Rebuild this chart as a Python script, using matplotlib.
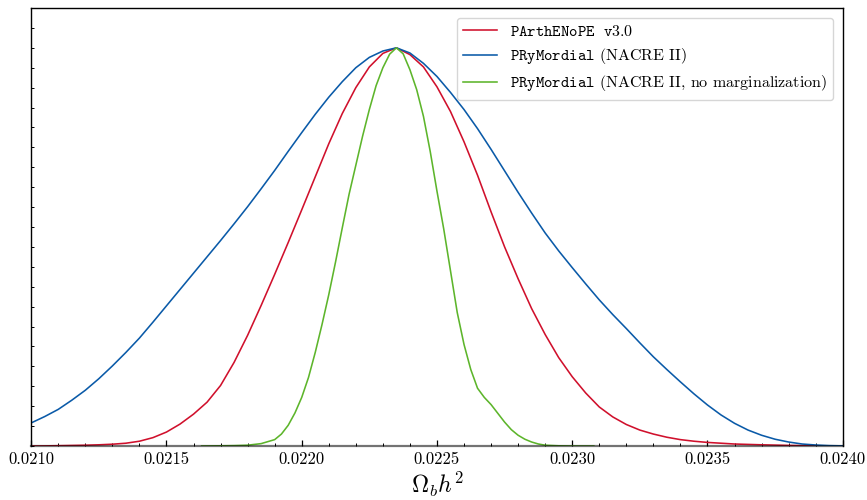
import matplotlib
matplotlib.use("Agg")
import matplotlib.pyplot as plt
from matplotlib.ticker import MultipleLocator, FormatStrFormatter, NullLocator

plt.rcParams['font.family'] = 'serif'
plt.rcParams['font.serif'] = ['cmr10']
plt.rcParams['mathtext.fontset'] = 'cm'
plt.rcParams['axes.formatter.use_mathtext'] = True

# Omega_b h^2 grid and normalised posteriors
x_blue = [0.02100, 0.02105, 0.02110, 0.02115, 0.02120, 0.02125, 0.02130, 0.02135,
          0.02140, 0.02145, 0.02150, 0.02155, 0.02160, 0.02165, 0.02170, 0.02175,
          0.02180, 0.02185, 0.02190, 0.02195, 0.02200, 0.02205, 0.02210, 0.02215,
          0.02220, 0.02225, 0.02230, 0.02235, 0.02240, 0.02245, 0.02250, 0.02255,
          0.02260, 0.02265, 0.02270, 0.02275, 0.02280, 0.02285, 0.02290, 0.02295,
          0.02300, 0.02305, 0.02310, 0.02315, 0.02320, 0.02325, 0.02330, 0.02335,
          0.02340, 0.02345, 0.02350, 0.02355, 0.02360, 0.02365, 0.02370, 0.02375,
          0.02380, 0.02385, 0.02390, 0.02395, 0.02400]
y_blue = [0.058, 0.074, 0.092, 0.115, 0.140, 0.169, 0.201, 0.235,
          0.271, 0.311, 0.352, 0.393, 0.434, 0.475, 0.516, 0.558,
          0.601, 0.646, 0.692, 0.740, 0.787, 0.833, 0.876, 0.915,
          0.950, 0.976, 0.992, 1.000, 0.987, 0.961, 0.928, 0.888,
          0.845, 0.797, 0.745, 0.691, 0.637, 0.585, 0.535, 0.490,
          0.448, 0.407, 0.367, 0.330, 0.295, 0.259, 0.224, 0.192,
          0.161, 0.131, 0.103, 0.078, 0.057, 0.040, 0.027, 0.017,
          0.010, 0.005, 0.0025, 0.001, 0.0003]

x_red = [0.02100, 0.02105, 0.02110, 0.02115, 0.02120, 0.02125, 0.02130, 0.02135,
         0.02140, 0.02145, 0.02150, 0.02155, 0.02160, 0.02165, 0.02170, 0.02175,
         0.02180, 0.02185, 0.02190, 0.02195, 0.02200, 0.02205, 0.02210, 0.02215,
         0.02220, 0.02225, 0.02230, 0.02235, 0.02240, 0.02245, 0.02250, 0.02255,
         0.02260, 0.02265, 0.02270, 0.02275, 0.02280, 0.02285, 0.02290, 0.02295,
         0.02300, 0.02305, 0.02310, 0.02315, 0.02320, 0.02325, 0.02330, 0.02335,
         0.02340, 0.02345, 0.02350, 0.02355, 0.02360, 0.02370, 0.02380, 0.02390,
         0.02400]
y_red = [0.000, 0.0003, 0.0008, 0.0014, 0.002, 0.003, 0.0045, 0.007,
         0.012, 0.021, 0.035, 0.055, 0.080, 0.110, 0.152, 0.210,
         0.278, 0.353, 0.431, 0.511, 0.593, 0.676, 0.759, 0.835,
         0.900, 0.952, 0.986, 1.000, 0.983, 0.952, 0.902, 0.840,
         0.764, 0.680, 0.588, 0.500, 0.420, 0.345, 0.280, 0.222,
         0.174, 0.133, 0.098, 0.073, 0.054, 0.040, 0.030, 0.022,
         0.016, 0.012, 0.009, 0.007, 0.005, 0.003, 0.0015, 0.0006,
         0.000]

x_green = [0.02163, 0.02170, 0.02175, 0.02180, 0.02185, 0.02190, 0.021925, 0.02195,
           0.021975, 0.02200, 0.022025, 0.02205, 0.022075, 0.02210, 0.022125, 0.02215,
           0.022175, 0.02220, 0.022225, 0.02225, 0.022275, 0.02230, 0.022325, 0.02235,
           0.022375, 0.02240, 0.022425, 0.02245, 0.022475, 0.02250, 0.022525, 0.02255,
           0.022575, 0.02260, 0.022625, 0.02265, 0.022675, 0.02270, 0.022725, 0.02275,
           0.022775, 0.02280, 0.022825, 0.02285, 0.022875, 0.02290, 0.02295, 0.02300,
           0.02308]
y_green = [0.000, 0.0005, 0.001, 0.002, 0.006, 0.016, 0.030, 0.052,
           0.083, 0.122, 0.172, 0.235, 0.305, 0.380, 0.462, 0.548,
           0.632, 0.705, 0.778, 0.845, 0.905, 0.950, 0.984, 1.000,
           0.985, 0.945, 0.895, 0.828, 0.740, 0.640, 0.545, 0.440,
           0.335, 0.255, 0.192, 0.145, 0.122, 0.104, 0.082, 0.060,
           0.041, 0.027, 0.017, 0.010, 0.005, 0.002, 0.0005, 0.000,
           0.000]

labels = [r'$\mathtt{PArthENoPE}\ \ \mathtt{v3.0}$',
          r'$\mathtt{PRyMordial}$ (NACRE II)',
          r'$\mathtt{PRyMordial}$ (NACRE II, no marginalization)']

fig = plt.figure(figsize=(8.67, 5.0), dpi=100)
ax = fig.add_axes([0.036, 0.108, 0.936, 0.876])

ax.plot(x_red, y_red, color='#d0102c', lw=1.15, label=labels[0])
ax.plot(x_blue, y_blue, color='#0a5aa8', lw=1.15, label=labels[1])
ax.plot(x_green, y_green, color='#5db52b', lw=1.15, label=labels[2])

ax.set_xlim(0.0210, 0.0240)
ax.set_ylim(0, 1.1)

ax.xaxis.set_major_locator(MultipleLocator(0.0005))
ax.xaxis.set_minor_locator(MultipleLocator(0.0001))
ax.xaxis.set_major_formatter(FormatStrFormatter('%.4f'))
ax.yaxis.set_major_locator(NullLocator())
ax.yaxis.set_minor_locator(MultipleLocator(0.05))
ax.tick_params(axis='x', which='major', direction='in', length=4.5, width=0.9,
               labelsize=12, pad=4, top=False)
ax.tick_params(axis='x', which='minor', direction='in', length=2.5, width=0.7, top=False)
ax.tick_params(axis='y', which='minor', direction='in', length=2.5, width=0.7, right=False)

ax.spines['bottom'].set_color((0, 0, 0, 0.55))
ax.spines['bottom'].set_linewidth(1.6)
for s in ['left', 'top', 'right']:
    ax.spines[s].set_linewidth(1.0)

ax.set_xlabel(r'$\Omega_b h^2$', fontsize=17, labelpad=2)

ax.legend(loc='upper right', fontsize=11.5, handlelength=2.1, labelspacing=0.45,
          borderaxespad=0.6)

plt.savefig('out.png', dpi=100)
